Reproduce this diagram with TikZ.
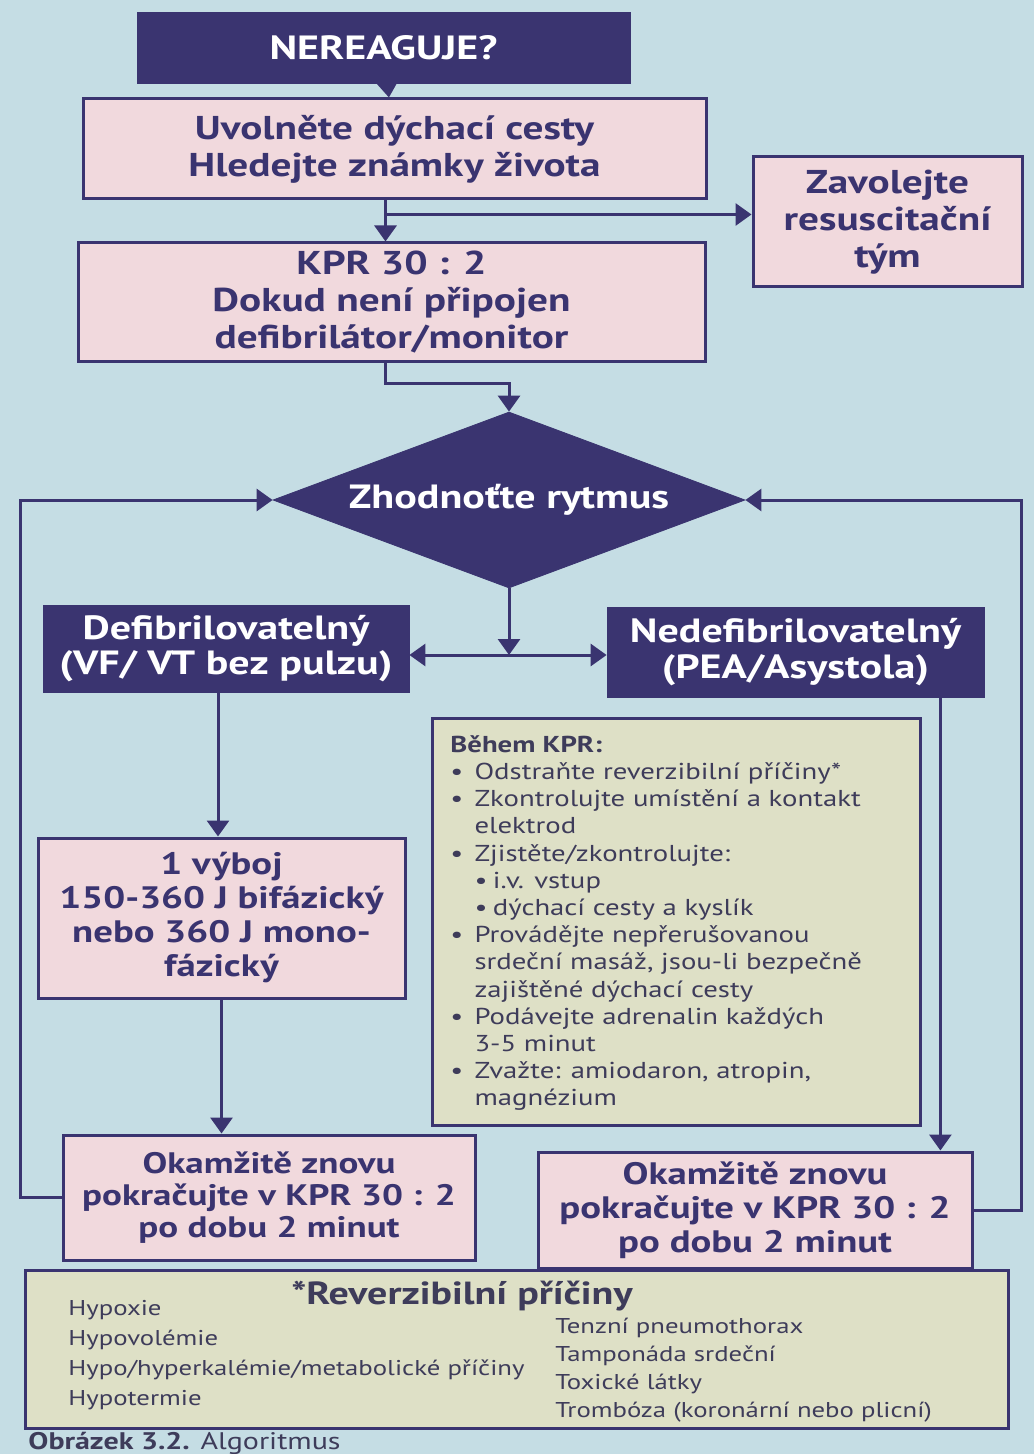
\documentclass[tikz,border=0pt]{standalone}
\usepackage{fontspec}
\setmainfont{PT Sans}[FakeStretch=1.25]
\usetikzlibrary{arrows.meta,shapes.geometric,calc}
\definecolor{PozadiModre}{RGB}{197,221,228}
\definecolor{TmaveModra}{RGB}{58,52,112}
\definecolor{RuzovaBox}{RGB}{241,217,221}
\definecolor{BezovaBox}{RGB}{222,224,198}
\definecolor{TextSedy}{RGB}{62,60,90}
\newcommand{\bod}{\makebox[1.05em][l]{•}}
\newcommand{\odsaz}{\hspace*{1.05em}}

\begin{document}
\begin{tikzpicture}[x=0.5pt,y=-0.5pt,>={Triangle[width=11pt,length=8pt]},
  tmavy/.style={fill=TmaveModra,draw=TmaveModra,text=white,align=center,inner sep=0pt,
    font=\bfseries\fontsize{16.8}{17.8}\selectfont},
  ruzovy/.style={fill=RuzovaBox,draw=TmaveModra,line width=1.5pt,text=TmaveModra,align=center,
    inner sep=0pt,font=\bfseries\fontsize{16.5}{18.5}\selectfont},
  bezovy/.style={fill=BezovaBox,draw=TmaveModra,line width=1.5pt,inner sep=0pt},
  spoj/.style={draw=TmaveModra,line width=1.5pt}]
  \clip (0,0) rectangle (1034,1454);
  \fill[PozadiModre] (0,0) rectangle (1034,1454);

  % horni cast
  \node[tmavy,minimum width=246.5pt,minimum height=35.5pt] (nereaguje) at (383.5,47.5) {NEREAGUJE?};
  \node[ruzovy,minimum width=311.5pt,minimum height=50pt] (uvolnete) at (394.5,149)
    {Uvolněte dýchací cesty\\Hledejte známky života};
  \node[ruzovy,minimum width=134.5pt,minimum height=65pt] (zavolejte) at (887.5,222)
    {Zavolejte\\resuscitační\\tým};
  \node[ruzovy,minimum width=313.5pt,minimum height=59.5pt] (kpr) at (391.5,302.5)
    {KPR 30 : 2\\Dokud není připojen\\defibrilátor/monitor};
  \node[tmavy,diamond,aspect=2.68,minimum width=236pt,minimum height=88pt] (rytmus) at (509,500)
    {Zhodnoťte rytmus};

  % vetve
  \node[tmavy,minimum width=183pt,minimum height=43.5pt] (defib) at (226,648.5)
    {Defibrilovatelný\\(VF/ VT bez pulzu)};
  \node[tmavy,minimum width=188.5pt,minimum height=45pt] (nedefib) at (795.5,652)
    {Nedefibrilovatelný\\(PEA/Asystola)};
  \node[ruzovy,minimum width=183.5pt,minimum height=80pt,font=\bfseries\fontsize{15.5}{17}\selectfont]
    (vyboj) at (221.5,918) {1 výboj\\150-360 J bifázický\\nebo 360 J mono-\\fázický};
  \node[bezovy,minimum width=244pt,minimum height=203.5pt] (behem) at (676,921.5) {};
  \node[anchor=north west,align=left,inner sep=0pt,text=TextSedy,
    font=\fontsize{11.5}{13.6}\selectfont] (behemtext) at (450,735)
    {\textbf{Během KPR:}\\
     \bod Odstraňte reverzibilní příčiny*\\
     \bod Zkontrolujte umístění a kontakt\\
     \odsaz elektrod\\
     \bod Zjistěte/zkontrolujte:\\
     \odsaz\makebox[0.8em][l]{•}i.v. vstup\\
     \odsaz\makebox[0.8em][l]{•}dýchací cesty a kyslík\\
     \bod Provádějte nepřerušovanou\\
     \odsaz srdeční masáž, jsou-li bezpečně\\
     \odsaz zajištěné dýchací cesty\\
     \bod Podávejte adrenalin každých\\
     \odsaz 3-5 minut\\
     \bod Zvažte: amiodaron, atropin,\\
     \odsaz magnézium};
  \node[ruzovy,minimum width=206pt,minimum height=62.5pt,font=\bfseries\fontsize{14.8}{16}\selectfont]
    (okleft) at (269,1197.5) {Okamžitě znovu\\pokračujte v KPR 30 : 2\\po dobu 2 minut};
  \node[ruzovy,minimum width=217pt,minimum height=58pt,font=\bfseries\fontsize{15.5}{17}\selectfont]
    (okright) at (755,1210) {Okamžitě znovu\\pokračujte v KPR 30 : 2\\po dobu 2 minut};

  % reverzibilni priciny
  \node[bezovy,minimum width=491.5pt,minimum height=79pt] (reverz) at (516.5,1349) {};
  \node[text=TextSedy,inner sep=0pt,font=\bfseries\fontsize{16}{19}\selectfont] (revtitul) at (462,1296)
    {*Reverzibilní příčiny};
  \node[anchor=north west,align=left,inner sep=0pt,text=TextSedy,
    font=\fontsize{10.7}{15}\selectfont] (revleva) at (68,1300)
    {Hypoxie\\Hypovolémie\\Hypo/hyperkalémie/metabolické příčiny\\Hypotermie};
  \node[anchor=north west,align=left,inner sep=0pt,text=TextSedy,
    font=\fontsize{10.7}{14}\selectfont] (revprava) at (555,1318)
    {Tenzní pneumothorax\\Tamponáda srdeční\\Toxické látky\\Trombóza (koronární nebo plicní)};
  \node[anchor=base west,inner sep=0pt,text=TextSedy,font=\fontsize{12}{14}\selectfont]
    (popisek) at (28,1449) {\textbf{Obrázek 3.2.} Algoritmus};

  % spojnice
  \coordinate (odboc) at ($(uvolnete.south)+(-9,14)$);
  \coordinate (rozcesti) at (509,655);
  \draw[spoj,->] (nereaguje) -- (uvolnete);
  \draw[spoj,->] (uvolnete.south -| odboc) -- (odboc |- kpr.north);
  \draw[spoj,->] (odboc) -- (odboc -| zavolejte.west);
  \draw[spoj,->] (kpr.south -| odboc) -- ++(0,20) -| (rytmus.north);
  \draw[spoj,->] (rytmus.south) -- (rozcesti);
  \draw[spoj,<->] (defib.east |- rozcesti) -- (nedefib.west |- rozcesti);
  \draw[spoj,->] ([xshift=-4pt]defib.south) -- ([xshift=-4pt]defib.south |- vyboj.north);
  \draw[spoj,->] (vyboj.south) -- (vyboj.south |- okleft.north);
  \draw[spoj,->] ([xshift=-22pt]nedefib.south east) -- ([xshift=-22pt]nedefib.south east |- okright.north);
  \draw[spoj,->] (okleft.west) -- ++(-41,0) |- (rytmus.west);
  \draw[spoj,->] (okright.east) -- ++(48,0) |- (rytmus.east);
\end{tikzpicture}
\end{document}
